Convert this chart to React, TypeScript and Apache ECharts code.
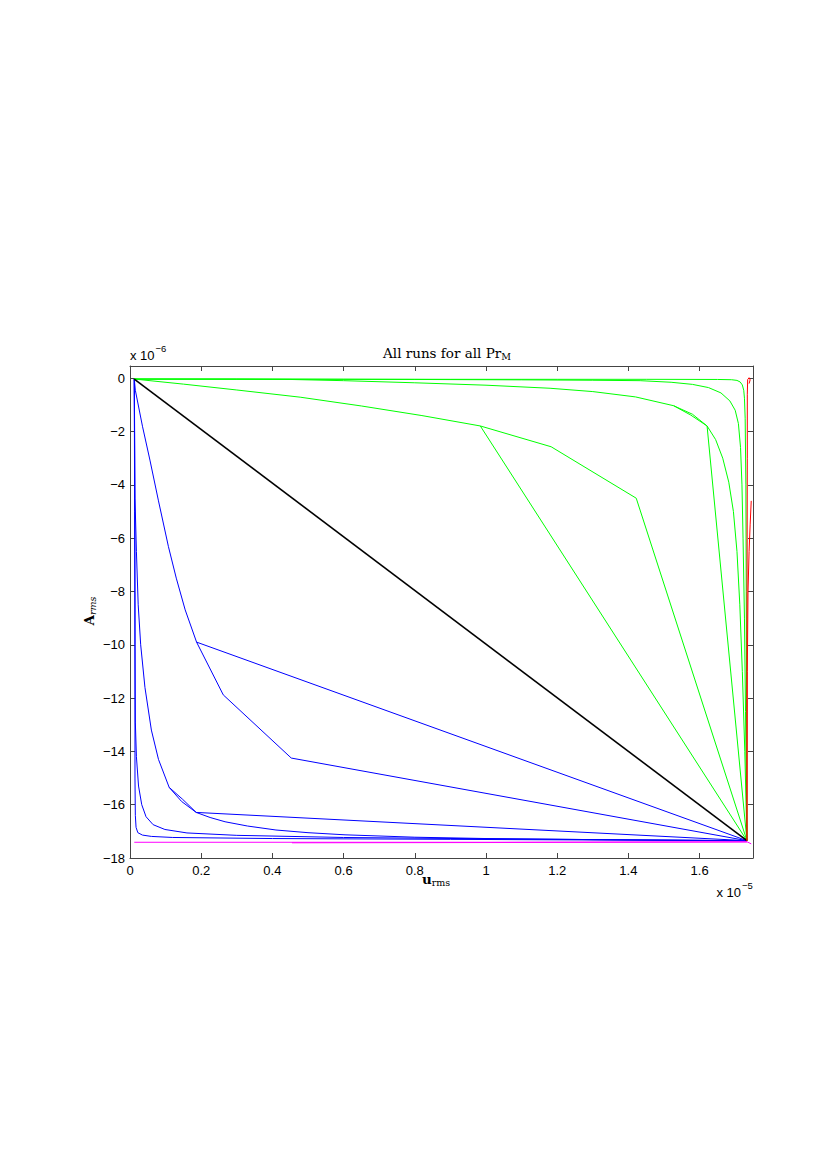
import React, { useEffect, useRef } from "react";
import * as echarts from "echarts";

// Axis ranges (x in units of 1e-5, y in units of 1e-6)
const X_MIN = 0;
const X_MAX = 1.75;
const X_STEP = 0.2;
const Y_MIN = -18;
const Y_MAX = 0.46;
const Y_STEP = 2;
const X_EXPONENT = "−5";
const Y_EXPONENT = "−6";

const TITLE_MAIN = "All runs for all Pr";
const TITLE_SUB = "M";
const XLABEL_MAIN = "u";
const XLABEL_SUB = "rms";
const YLABEL_MAIN = "A";
const YLABEL_SUB = "rms";

// ---- green runs ----
const green1 = [[0.012, -0.03], [0.3, -0.03], [0.6, -0.035], [0.9, -0.04], [1.2, -0.04], [1.45, -0.04], [1.65, -0.045], [1.69, -0.055], [1.705, -0.08], [1.714, -0.14], [1.72, -0.25], [1.724, -0.45], [1.726, -0.75], [1.728, -1.5], [1.73, -4], [1.731, -8], [1.732, -12], [1.733, -17.35]];
const green2 = [[0.012, -0.03], [0.4, -0.035], [0.8, -0.045], [1.1, -0.06], [1.3, -0.075], [1.433, -0.09], [1.52, -0.15], [1.58, -0.23], [1.625, -0.35], [1.66, -0.55], [1.685, -0.85], [1.7, -1.2], [1.709, -1.7], [1.715, -2.6], [1.719, -4], [1.722, -6], [1.726, -9], [1.729, -12.5], [1.733, -17.35]];
const green3 = [[0.012, -0.03], [0.3, -0.035], [0.45, -0.045], [0.6, -0.09], [0.8, -0.17], [1.0, -0.26], [1.18, -0.375], [1.3, -0.5], [1.42, -0.7], [1.527, -1.03], [1.58, -1.35], [1.621, -1.79]];
const green3Twin = [[1.527, -1.03], [1.575, -1.38], [1.621, -1.79]];
const green3Direct = [[1.621, -1.79], [1.733, -17.35]];
const green3Curve = [[1.621, -1.79], [1.645, -2.3], [1.665, -3.0], [1.682, -3.9], [1.695, -5.0], [1.705, -6.5], [1.713, -8.5], [1.72, -11], [1.727, -14], [1.733, -17.35]];
const green4 = [[0.012, -0.03], [0.15, -0.22], [0.3, -0.44], [0.478, -0.71], [0.65, -1.04], [0.82, -1.4], [0.984, -1.79]];
const green4Direct = [[0.984, -1.79], [1.733, -17.35]];
const green4Kinked = [[0.984, -1.79], [1.183, -2.57], [1.422, -4.5], [1.733, -17.35]];

// ---- blue runs ----
const blue1 = [[0.012, -0.03], [0.013, -3], [0.014, -8], [0.014, -12], [0.014, -15], [0.015, -16.4], [0.017, -16.85], [0.022, -17.05], [0.035, -17.14], [0.06, -17.19], [0.12, -17.23], [0.4, -17.27], [0.9, -17.3], [1.733, -17.35]];
const blue2 = [[0.012, -0.03], [0.013, -5], [0.014, -10], [0.015, -12.9], [0.018, -14.2], [0.024, -15.3], [0.033, -16.0], [0.045, -16.45], [0.065, -16.75], [0.098, -16.93], [0.16, -17.06], [0.3, -17.15], [0.6, -17.23], [1.0, -17.28], [1.733, -17.35]];
const blue3 = [[0.012, -0.03], [0.013, -2], [0.014, -4.5], [0.018, -6.5], [0.023, -8.5], [0.03, -10], [0.042, -11.6], [0.06, -13.2], [0.08, -14.3], [0.11, -15.35], [0.145, -15.88], [0.186, -16.29]];
const blue3Twin = [[0.11, -15.35], [0.148, -15.8], [0.186, -16.29]];
const blue3Direct = [[0.186, -16.29], [1.733, -17.35]];
const blue3Curve = [[0.186, -16.29], [0.225, -16.48], [0.267, -16.64], [0.33, -16.8], [0.41, -16.95], [0.5, -17.05], [0.604, -17.13], [0.8, -17.22], [1.0, -17.27], [1.3, -17.31], [1.733, -17.35]];
const blue4 = [[0.012, -0.03], [0.015, -0.45], [0.035, -1.8], [0.056, -3.07], [0.08, -4.6], [0.108, -6.32], [0.13, -7.5], [0.155, -8.69], [0.187, -9.9]];
const blue4Direct = [[0.187, -9.9], [1.733, -17.35]];
const blue4Kinked = [[0.187, -9.9], [0.262, -11.88], [0.453, -14.25], [1.733, -17.35]];

// ---- diagonal (black) ----
const blackDiagonal = [[0.012, -0.03], [1.733, -17.35]];

// ---- red runs ----
const red1 = [[1.739, -0.2], [1.742, -0.06], [1.739, 0.02], [1.735, -0.05], [1.734, -0.6], [1.734, -3], [1.733, -10], [1.733, -17.35]];
const red2 = [[1.745, -4.6], [1.742, -5.5], [1.739, -6.5], [1.736, -8], [1.734, -11], [1.733, -17.35]];

// ---- magenta runs ----
const magenta1 = [[0.012, -17.41], [0.5, -17.41], [1.0, -17.41], [1.733, -17.39], [1.745, -17.47]];
const magenta2 = [[0.455, -17.43], [1.0, -17.42], [1.733, -17.4]];

const GREEN = "#00ff00";
const BLUE = "#0000ff";
const BLACK = "#000000";
const RED = "#ff0000";
const MAGENTA = "#ff00ff";

const RUNS: { data: number[][]; color: string; width: number }[] = [
  ...[blue1, blue2, blue3, blue3Twin, blue3Direct, blue3Curve, blue4, blue4Direct, blue4Kinked].map((d) => ({ data: d, color: BLUE, width: 1 })),
  ...[green1, green2, green3, green3Twin, green3Direct, green3Curve, green4, green4Direct, green4Kinked].map((d) => ({ data: d, color: GREEN, width: 1 })),
  { data: blackDiagonal, color: BLACK, width: 1.6 },
  ...[red1, red2].map((d) => ({ data: d, color: RED, width: 1 })),
  ...[magenta1, magenta2].map((d) => ({ data: d, color: MAGENTA, width: 1 })),
];

const SANS = "'Liberation Sans', Arial, sans-serif";
const SERIF = "'DejaVu Serif', serif";

function measure(text: string, font: string): number {
  const ctx = document.createElement("canvas").getContext("2d");
  if (!ctx) return text.length * 7;
  ctx.font = font;
  return ctx.measureText(text).width;
}

const fmt = (v: number) => {
  const r = Math.round(v * 1000) / 1000;
  return r < 0 ? "−" + String(Math.abs(r)) : String(r);
};

export default function App() {
  const ref = useRef<HTMLDivElement>(null);
  useEffect(() => {
    if (!ref.current) return;
    const chart = echarts.init(ref.current, undefined, { renderer: "svg" });

    const AXIS_COLOR = "#444";
    const left = 130, top = 366, right = 77, bottom = 317;

    // Title
    const tMainFont = 13.5, tSubFont = 9.5;
    const wTMain = measure(TITLE_MAIN, `${tMainFont}px 'DejaVu Serif'`);
    const wTSub = measure(TITLE_SUB, `${tSubFont}px 'DejaVu Serif'`);
    const tLeft = 447 - (wTMain + wTSub) / 2;

    // X label
    const xMainFont = 13.5, xSubFont = 9.5;
    const wXMain = measure(XLABEL_MAIN, `bold ${xMainFont}px 'DejaVu Serif'`);
    const wXSub = measure(XLABEL_SUB, `${xSubFont}px 'DejaVu Serif'`);
    const xlLeft = 436 - (wXMain + wXSub) / 2;

    // Y label
    const wYMain = measure(YLABEL_MAIN, `bold 13.5px 'DejaVu Serif'`);
    const wYSub = measure(YLABEL_SUB, `italic 9.5px 'DejaVu Serif'`);
    const ylStart = -(wYMain + wYSub) / 2;

    const wX10 = measure("x 10", `13px 'Liberation Sans'`);

    const graphic: any[] = [
      { type: "text", x: tLeft, y: 352.5, style: { text: TITLE_MAIN, font: `${tMainFont}px ${SERIF}`, fill: "#000", align: "left", verticalAlign: "middle" } },
      { type: "text", x: tLeft + wTMain, y: 356.5, style: { text: TITLE_SUB, font: `${tSubFont}px ${SERIF}`, fill: "#000", align: "left", verticalAlign: "middle" } },
      { type: "text", x: xlLeft, y: 878.5, style: { text: XLABEL_MAIN, font: `bold ${xMainFont}px ${SERIF}`, fill: "#000", align: "left", verticalAlign: "middle" } },
      { type: "text", x: xlLeft + wXMain, y: 882, style: { text: XLABEL_SUB, font: `${xSubFont}px ${SERIF}`, fill: "#000", align: "left", verticalAlign: "middle" } },
      {
        type: "group",
        x: 89,
        y: 611,
        rotation: Math.PI / 2,
        children: [
          { type: "text", x: ylStart, y: 0, style: { text: YLABEL_MAIN, font: `bold 13.5px ${SERIF}`, fill: "#000", align: "left", verticalAlign: "middle" } },
          { type: "text", x: ylStart + wYMain, y: 3.5, style: { text: YLABEL_SUB, font: `italic 9.5px ${SERIF}`, fill: "#000", align: "left", verticalAlign: "middle" } },
        ],
      },
      { type: "text", x: 130, y: 355.5, style: { text: "x 10", font: `13px ${SANS}`, fill: "#000", align: "left", verticalAlign: "middle" } },
      { type: "text", x: 130 + wX10 + 1, y: 348, style: { text: Y_EXPONENT, font: `9.5px ${SANS}`, fill: "#000", align: "left", verticalAlign: "middle" } },
      { type: "text", x: 716.5, y: 892.8, style: { text: "x 10", font: `13px ${SANS}`, fill: "#000", align: "left", verticalAlign: "middle" } },
      { type: "text", x: 716.5 + wX10 + 1, y: 885.5, style: { text: X_EXPONENT, font: `9.5px ${SANS}`, fill: "#000", align: "left", verticalAlign: "middle" } },
    ];

    const baseX = {
      type: "value",
      min: X_MIN,
      max: X_MAX,
      interval: X_STEP,
      splitLine: { show: false },
      axisLine: { show: true, onZero: false, lineStyle: { color: AXIS_COLOR, width: 1 } },
      axisTick: { show: true, inside: true, length: 5, lineStyle: { color: AXIS_COLOR, width: 1 } },
    };
    const baseY = {
      type: "value",
      min: Y_MIN,
      max: Y_MAX,
      interval: Y_STEP,
      splitLine: { show: false },
      axisLine: { show: true, onZero: false, lineStyle: { color: AXIS_COLOR, width: 1 } },
      axisTick: { show: true, inside: true, length: 5, lineStyle: { color: AXIS_COLOR, width: 1 } },
    };

    chart.setOption({
      animation: false,
      backgroundColor: "#ffffff",
      grid: { left, top, right, bottom, containLabel: false },
      xAxis: [
        {
          ...baseX,
          position: "bottom",
          axisLabel: { show: true, margin: 6, color: "#000", fontFamily: SANS, fontSize: 13, showMaxLabel: false, formatter: fmt },
        },
        { ...baseX, position: "top", axisLabel: { show: false } },
      ],
      yAxis: [
        {
          ...baseY,
          position: "left",
          axisLabel: { show: true, margin: 5, color: "#000", fontFamily: SANS, fontSize: 13, showMaxLabel: false, formatter: fmt },
        },
        { ...baseY, position: "right", axisLabel: { show: false } },
      ],
      graphic,
      series: RUNS.map((r) => ({
        type: "line",
        xAxisIndex: 0,
        yAxisIndex: 0,
        data: r.data,
        showSymbol: false,
        symbol: "none",
        silent: true,
        clip: true,
        lineStyle: { color: r.color, width: r.width },
        emphasis: { disabled: true },
      })),
    });

    return () => chart.dispose();
  }, []);

  return <div ref={ref} style={{ position: "absolute", left: 0, top: 0, width: 830, height: 1175, background: "#fff" }} />;
}
